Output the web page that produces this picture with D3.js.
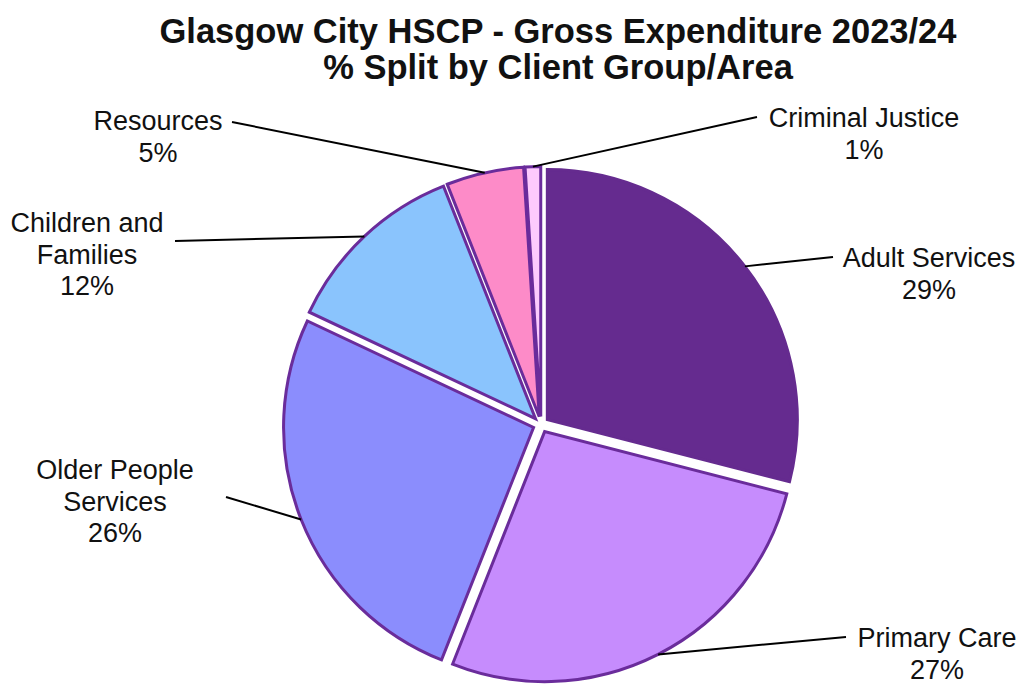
<!DOCTYPE html>
<html>
<head>
<meta charset="utf-8">
<script src="https://cdn.jsdelivr.net/npm/d3@7"></script>
<style>
  body { margin: 0; background: #fff; }
  text { font-family: "Liberation Sans", Arial, sans-serif; fill: #111; }
</style>
</head>
<body>
<svg id="chart" width="1025" height="684"></svg>
<script>
// Data (clockwise from 12 o'clock)
const categories = ["Adult Services", "Primary Care", "Older People Services", "Children and Families", "Resources", "Criminal Justice"];
const values = [29, 27, 26, 12, 5, 1];
const labelLines = [
    ["Adult Services"],
    ["Primary Care"],
    ["Older People", "Services"],
    ["Children and", "Families"],
    ["Resources"],
    ["Criminal Justice"]
];
const colors = ["#652b8f", "#c68cfd", "#8b8dfd", "#8ac4fd", "#fd8bc8", "#fdcafd"];

// Layout
const width = 1025;
const height = 684;
const cx = 541, cy = 424.5;
const radius = 250;
const explode = 8;
// where each leader ends and the label block sits
const labelLayout = [
    { lx: 833, ly: 257, tx: 929, ty: 267 },
    { lx: 846, ly: 637, tx: 937, ty: 647 },
    { lx: 226, ly: 497, tx: 115, ty: 479 },
    { lx: 175, ly: 241, tx: 87,  ty: 232 },
    { lx: 232, ly: 122, tx: 158, ty: 130 },
    { lx: 757, ly: 117, tx: 864, ty: 127 }
];
const lineGap = 31.5;

const svg = d3.select("#chart");

// Title
const title = svg.append("text")
    .attr("text-anchor", "middle")
    .style("font-weight", "bold")
    .style("font-size", "34.5px");
title.append("tspan").attr("x", 558).attr("y", 43).text("Glasgow City HSCP - Gross Expenditure 2023/24");
title.append("tspan").attr("x", 558).attr("y", 79).text("% Split by Client Group/Area");

const pie = d3.pie().sort(null).value(d => d);
const arcs = pie(values);
const arc = d3.arc().innerRadius(0).outerRadius(radius);

const g = svg.append("g").attr("transform", `translate(${cx},${cy})`);

const mid = d => (d.startAngle + d.endAngle) / 2;

g.selectAll("path.slice")
    .data(arcs)
    .enter()
    .append("path")
    .attr("class", "slice")
    .attr("transform", d => `translate(${explode * Math.sin(mid(d))},${-explode * Math.cos(mid(d))})`)
    .attr("d", arc)
    .attr("fill", (d, i) => colors[i])
    .attr("stroke", (d, i) => i === 0 ? colors[0] : "#6a2c9b")
    .attr("stroke-width", 3)
    .attr("stroke-linejoin", "miter");

// Leader lines
g.selectAll("line.leader")
    .data(arcs)
    .enter()
    .append("line")
    .attr("class", "leader")
    .attr("x1", d => (radius + explode) * Math.sin(mid(d)))
    .attr("y1", d => -(radius + explode) * Math.cos(mid(d)))
    .attr("x2", (d, i) => labelLayout[i].lx - cx)
    .attr("y2", (d, i) => labelLayout[i].ly - cy)
    .attr("stroke", "#000")
    .attr("stroke-width", 2);

// Labels
arcs.forEach((d, i) => {
    const pos = labelLayout[i];
    const t = svg.append("text")
        .attr("text-anchor", "middle")
        .style("font-size", "27px");
    const lines = labelLines[i].concat([d.data + "%"]);
    lines.forEach((line, j) => {
        t.append("tspan")
            .attr("x", pos.tx)
            .attr("y", pos.ty + j * lineGap)
            .text(line);
    });
});
</script>
</body>
</html>
